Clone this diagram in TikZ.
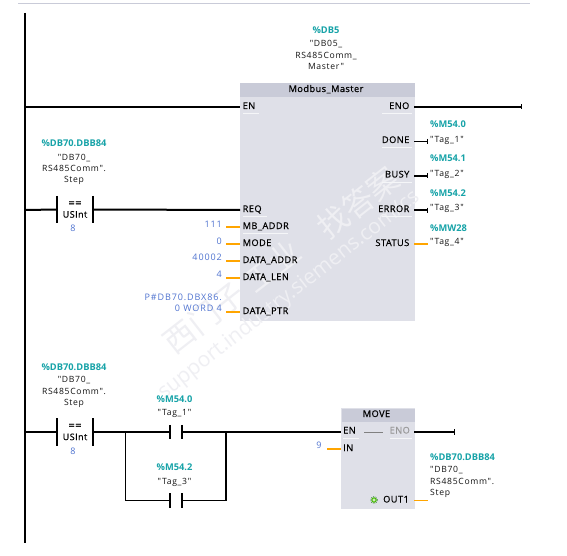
\documentclass[tikz,border=0pt]{standalone}
\usepackage{fontspec}
\setmainfont{Open Sans}
\newfontfamily\cjkwm{Noto Sans CJK SC}
\newfontfamily\symfont[LetterSpace=8]{Open Sans}
\newfontfamily\valfont[LetterSpace=10]{Open Sans}
\newfontfamily\pinfont[FakeBold=0.6,LetterSpace=5]{Open Sans}
\usetikzlibrary{arrows.meta}
\definecolor{tagc}{HTML}{17A3A8}
\definecolor{valc}{HTML}{4F73D0}
\definecolor{wirec}{HTML}{FFA500}
\definecolor{bodyc}{HTML}{DFE0E8}
\definecolor{headc}{HTML}{C9CBD8}
\definecolor{wmc}{HTML}{EFEFF3}
\tikzset{
  txt/.style={inner sep=0pt,text height=6.5pt,text depth=1.5pt},
  pin/.style={txt,font=\pinfont\fontsize{9.2}{11}\selectfont,text=black},
  pinl/.style={pin,anchor=west},
  pinr/.style={pin,anchor=east},
  tagb/.style={txt,font=\fontsize{9.3}{11}\selectfont\bfseries,text=tagc},
  sym/.style={inner sep=0pt,font=\symfont\fontsize{8.6}{11.4}\selectfont,align=center,text=black!92},
  syml/.style={inner xsep=2pt,inner ysep=0pt,font=\symfont\fontsize{8.6}{11.4}\selectfont,align=left,text=black!92,anchor=west},
  val/.style={txt,font=\valfont\fontsize{9}{11}\selectfont,text=valc,anchor=east},
  valm/.style={inner sep=0pt,font=\valfont\fontsize{9}{11}\selectfont,text=valc,align=right,anchor=east},
  blockbody/.style={fill=bodyc,anchor=north west,inner sep=0pt},
  blockhead/.style={fill=headc,anchor=north west,inner sep=0pt},
  heavy/.style={line width=2pt,black},
  thinw/.style={line width=1.2pt,black},
  owire/.style={line width=2pt,wirec},
  owirethin/.style={line width=1.2pt,wirec},
  cmpbox/.style={minimum width=36pt,minimum height=27pt,inner sep=0pt,font=\pinfont\fontsize{9}{11}\selectfont,align=center,text=black},
  nobox/.style={minimum width=12pt,minimum height=14pt,inner sep=0pt},
  bar/.style={line width=2pt,black},
  sep/.style={line width=.5pt,white!70!bodyc},
  wm/.style={text=wmc,rotate=38,inner sep=0pt},
}
\newcommand{\eqsign}{{\fontsize{11}{11}\selectfont ==}}
\begin{document}
\begin{tikzpicture}[x=1pt,y=-1pt]
\useasboundingbox (0,0) rectangle (567,556);
\fill[white] (0,0) rectangle (567,556);
\coordinate (topa) at (18,3.5);
\coordinate (topb) at (530,3.5);
\draw[line width=.8pt,color=headc] (topa) -- (topb);

% rail
\coordinate (railtop) at (25,13);
\coordinate (railbot) at (25,543);
\coordinate (railA) at (25,107);
\coordinate (railB) at (25,210);
\coordinate (railC) at (25,432);
\draw[heavy] (railtop) -- (railbot);

% main block
\node[blockbody,minimum width=175pt,minimum height=238pt] (mb) at (240,83) {};
\node[blockhead,minimum width=175pt,minimum height=14pt] (mbh) at (240,83) {};

% watermark
\node[wm,font=\fontsize{31}{31}\selectfont\cjkwm] (wm1) at (204,318) {西门子};
\node[wm,font=\fontsize{31}{31}\selectfont\cjkwm] (wm2) at (272,266) {工业};
\node[wm,font=\fontsize{31}{31}\selectfont\cjkwm] (wm3) at (358,203) {找答案};
\node[wm,font=\fontsize{21}{21}\selectfont] (wm4) at (289,295) {support.industry.siemens.com/cs};

\node[pin] (mbt) at (326,89.5) {Modbus\_Master};
\node[tagb] (db5) at (326,31) {\%DB5};
\node[sym] (db5n) at (326,55) {"DB05\_\\RS485Comm\_\\Master"};

% block pins
\coordinate (mEN) at (240,107);
\coordinate (mREQ) at (240,210);
\coordinate (mADDR) at (240,227);
\coordinate (mMODE) at (240,244);
\coordinate (mDADDR) at (240,261);
\coordinate (mDLEN) at (240,278);
\coordinate (mDPTR) at (240,312);
\coordinate (mENO) at (414,107);
\coordinate (mDONE) at (414,141.5);
\coordinate (mBUSY) at (414,176);
\coordinate (mERR) at (414,210);
\coordinate (mSTAT) at (414,244);

\node[pinl] (pEN) at (242.5,106.5) {EN};
\node[pinl] (pREQ) at (242.5,209.5) {REQ};
\node[pinl] (pADDR) at (242.5,226.5) {MB\_ADDR};
\node[pinl] (pMODE) at (242.5,243.5) {MODE};
\node[pinl] (pDADDR) at (242.5,260.5) {DATA\_ADDR};
\node[pinl] (pDLEN) at (242.5,277.5) {DATA\_LEN};
\node[pinl] (pDPTR) at (242.5,311.5) {DATA\_PTR};
\node[pinr] (pENO) at (409.5,106.5) {ENO};
\node[pinr] (pDONE) at (409.5,140.5) {DONE};
\node[pinr] (pBUSY) at (409.5,175) {BUSY};
\node[pinr] (pERR) at (409.5,209.5) {ERROR};
\node[pinr] (pSTAT) at (409.5,243.5) {STATUS};

% faint pin separators
\draw[sep] (pEN.south west) ++(0,3) -- ++(16,0);
\draw[sep] (pENO.south east) ++(2,3) -- ++(-30,0);
\draw[sep] (pDONE.south east) ++(2,3) -- ++(-30,0);
\draw[sep] (pBUSY.south east) ++(2,3) -- ++(-30,0);
\draw[sep] (pERR.south east) ++(2,3) -- ++(-30,0);
\draw[sep] (pREQ.south west) ++(0,3) -- ++(24,0);
\draw[sep] (pADDR.south west) ++(0,3) -- ++(45,0);

% rung 1
\draw[heavy] (railA) -- (mEN);
\coordinate (enoend) at (522,107);
\draw[heavy,-{Bar[width=5pt,line width=1pt]}] (mENO) -- (enoend);

% comparator 1
\node[tagb] (c1a) at (74,144.5) {\%DB70.DBB84};
\node[sym] (c1n) at (74,169.5) {"DB70\_\\RS485Comm".\\Step};
\node[cmpbox] (c1) at (75,209.5) {\eqsign\\[0pt]USInt};
\node[val,anchor=center] (c1v) at (73,229) {8};
\draw[bar] (c1.north west) -- (c1.south west);
\draw[bar] (c1.north east) -- (c1.south east);
\draw[heavy] (railB) -- (c1.west);
\draw[heavy] (c1.east) -- (mREQ);

% inputs
\node[val] (v111) at (222,225) {111};
\node[val] (v0) at (222,241.5) {0};
\node[val] (v40002) at (222,258) {40002};
\node[val] (v4) at (222,275) {4};
\node[valm] (vptr) at (222,302.5) {P\#DB70.DBX86.\\0 WORD 4};
\coordinate (iA) at (226,227);
\coordinate (iB) at (226,244);
\coordinate (iC) at (226,261);
\coordinate (iD) at (226,278);
\coordinate (iE) at (226,312);
\draw[owire] (iA) -- (mADDR);
\draw[owire] (iB) -- (mMODE);
\draw[owire] (iC) -- (mDADDR);
\draw[owire] (iD) -- (mDLEN);
\draw[owirethin] (iE) -- (mDPTR);

% outputs
\node[tagb,anchor=west] (t1a) at (430,125.5) {\%M54.0};
\node[tagb,anchor=west] (t2a) at (430,159.5) {\%M54.1};
\node[tagb,anchor=west] (t3a) at (430,194) {\%M54.2};
\node[tagb,anchor=west] (t4a) at (430,228.5) {\%MW28};
\node[syml] (t1) at (428,140) {"Tag\_1"};
\node[syml] (t2) at (428,174) {"Tag\_2"};
\node[syml] (t3) at (428,208) {"Tag\_3"};
\node[syml] (t4) at (428,242) {"Tag\_4"};
\coordinate (t1w) at (428,141.5);
\coordinate (t2w) at (428,176);
\coordinate (t3w) at (428,210);
\coordinate (t4w) at (428,244);
\draw[thinw,-{Bar[width=5pt,line width=1.2pt]}] (mDONE) -- (t1w);
\draw[heavy,-{Bar[width=5pt,line width=1.2pt]}] (mBUSY) -- (t2w);
\draw[heavy,-{Bar[width=5pt,line width=1.2pt]}] (mERR) -- (t3w);
\draw[owire] (mSTAT) -- (t4w);

% rung 2
\node[tagb] (c2a) at (74,367.5) {\%DB70.DBB84};
\node[sym] (c2n) at (74,392) {"DB70\_\\RS485Comm".\\Step};
\node[cmpbox] (c2) at (75,432) {\eqsign\\[0pt]USInt};
\node[val,anchor=center] (c2v) at (73,452) {8};
\draw[bar] (c2.north west) -- (c2.south west);
\draw[bar] (c2.north east) -- (c2.south east);
\draw[heavy] (railC) -- (c2.west);

% contacts
\node[tagb] (k1a) at (174.5,399.5) {\%M54.0};
\node[sym] (k1n) at (174.5,413) {"Tag\_1"};
\node[nobox] (k1) at (176,432) {};
\draw[bar] (k1.north west) -- (k1.south west);
\draw[bar] (k1.north east) -- (k1.south east);
\node[tagb] (k2a) at (174.5,467.5) {\%M54.2};
\node[sym] (k2n) at (174.5,482) {"Tag\_3"};
\node[nobox] (k2) at (176,500.5) {};
\draw[bar] (k2.north west) -- (k2.south west);
\draw[bar] (k2.north east) -- (k2.south east);

\coordinate (ja) at (125.5,432);
\coordinate (jb) at (226,432);
\coordinate (jc) at (125.5,500.5);
\coordinate (jd) at (226,500.5);
\coordinate (mvEN) at (341,432);
\draw[heavy] (c2.east) -- (k1.west);
\draw[heavy] (k1.east) -- (mvEN);
\draw[thinw] (ja) -- (jc) -- (k2.west);
\draw[thinw] (k2.east) -- (jd);
\draw[line width=1.6pt] (jd) -- (jb);

% MOVE block
\node[blockbody,minimum width=74pt,minimum height=101pt] (mv) at (341,408) {};
\node[blockhead,minimum width=72.5pt,minimum height=13pt] (mvh) at (342,409) {};
\node[pin] (mvt) at (376.5,414.5) {MOVE};
\node[pinl] (qEN) at (343,431) {EN};
\node[pinl] (qIN) at (343,448.5) {IN};
\node[pinr,text=black!40] (qENO) at (410,431) {ENO};
\node[pinr] (qOUT) at (409,500) {OUT1};
\coordinate (gA) at (364,432);
\coordinate (gB) at (383,432);
\draw[line width=.9pt,black!50] (gA) -- (gB);
\draw[sep] (qEN.south west) ++(0,3) -- ++(16,0);
\draw[sep] (qENO.south east) ++(2,3) -- ++(-22,0);
\node[circle,fill=green!45!olive,minimum size=5.5pt,inner sep=0pt] (gear) at (374,500) {};
\draw[white,line width=.5pt] (gear.center) circle (1.2pt);
\draw[black!60!green,line width=.5pt,dash pattern=on .8pt off 1pt] (gear.center) circle (3.4pt);

\coordinate (mvENO) at (414,432);
\coordinate (mvENd) at (455,432);
\draw[heavy,-{Bar[width=6pt,line width=1.2pt]}] (mvENO) -- (mvENd);
\node[val,anchor=center] (v9) at (319,446) {9};
\coordinate (iN) at (327,449);
\coordinate (mvIN) at (341,449);
\draw[owire] (iN) -- (mvIN);
\coordinate (mvOUT) at (414,500.5);
\coordinate (oN) at (428,500.5);
\draw[owirethin] (mvOUT) -- (oN);
\node[tagb,anchor=west] (o1a) at (430,457.5) {\%DB70.DBB84};
\node[syml] (o1n) at (428,482) {"DB70\_\\RS485Comm".\\Step};
\end{tikzpicture}
\end{document}
